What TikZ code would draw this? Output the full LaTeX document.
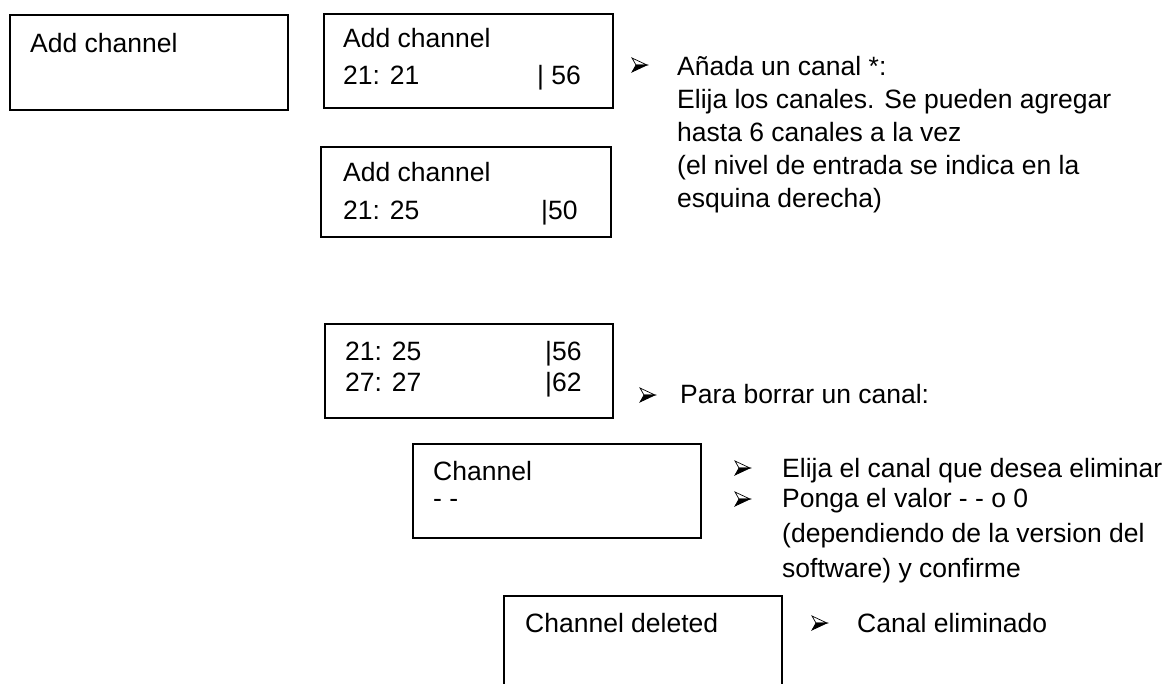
\documentclass[tikz,border=0pt]{standalone}
\usepackage{fontspec}
\setmainfont{Liberation Sans}
\begin{document}
\begin{tikzpicture}[x=1pt,y=-1pt,
  box/.style={draw=black, line width=1.6pt, anchor=north west, inner sep=0pt},
  txt/.style={anchor=base west, inner sep=0pt, font=\fontsize{26.5}{32}\selectfont},
  arrbullet/.pic={
    \draw[line width=0.7pt, line join=miter] (0,-7) -- (15,0) -- (4,0) -- cycle;
    \fill[black] (4,0) -- (15,0) -- (0,7) -- cycle;
    \draw[line width=0.7pt, line join=miter] (4,0) -- (15,0) -- (0,7) -- cycle;
  }]
\clip (0,0) rectangle (1166,683);
% boxes
\node[box, minimum width=278pt, minimum height=95pt] (b1) at (9,14) {};
\node[box, minimum width=289pt, minimum height=94pt] (b2) at (323,13) {};
\node[box, minimum width=290pt, minimum height=90pt] (b3) at (320,146) {};
\node[box, minimum width=288pt, minimum height=94pt] (b4) at (324,323) {};
\node[box, minimum width=288pt, minimum height=94pt] (b5) at (412,443) {};
\draw[line width=1.6pt] (504,700) coordinate (b6bl) -- (504,596) coordinate (b6tl) -- (782,596) coordinate (b6tr) -- (782,700) coordinate (b6br);
% box texts
\node[txt] (t1) at (30,52) {Add channel};
\node[txt] (t2a) at (343,47) {Add channel};
\node[txt] (t2b) at (343,84) {21: 21};
\node[txt] (t2c) at (537,84) {| 56};
\node[txt] (t3a) at (343,181) {Add channel};
\node[txt] (t3b) at (343,219) {21: 25};
\node[txt] (t3c) at (541,219) {|50};
\node[txt] (t4a) at (345,360) {21: 25};
\node[txt] (t4b) at (345,391) {27: 27};
\node[txt] (t4c) at (545,360) {|56};
\node[txt] (t4d) at (545,391) {|62};
\node[txt] (t5a) at (433,480) {Channel};
\node[txt] (t5b) at (433,507) {- -};
\node[txt] (t6) at (525,632) {Channel deleted};
% right texts
\pic at (632,65) {arrbullet};
\node[txt] (r1a) at (677,75) {Añada un canal *:};
\node[txt] (r1b) at (677,108) {Elija los canales. Se pueden agregar};
\node[txt] (r1c) at (677,141) {hasta 6 canales a la vez};
\node[txt] (r1d) at (677,174) {(el nivel de entrada se indica en la};
\node[txt] (r1e) at (677,207) {esquina derecha)};
\pic at (640,395) {arrbullet};
\node[txt] (r2) at (680,403) {Para borrar un canal:};
\pic at (735,468) {arrbullet};
\node[txt] (r3a) at (782,477) {Elija el canal que desea eliminar};
\pic at (735,499) {arrbullet};
\node[txt] (r3b) at (782,507) {Ponga el valor - - o 0};
\node[txt] (r3c) at (782,542) {(dependiendo de la version del};
\node[txt] (r3d) at (782,577) {software) y confirme};
\pic at (812,623) {arrbullet};
\node[txt] (r4) at (857,632) {Canal eliminado};
\end{tikzpicture}
\end{document}
